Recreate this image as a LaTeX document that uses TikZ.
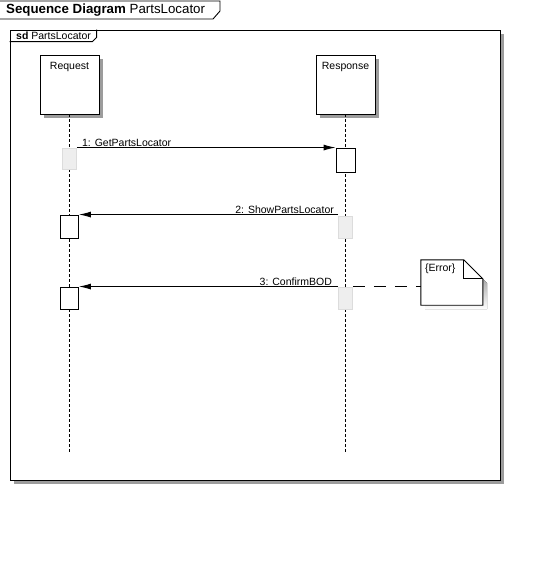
\documentclass[tikz,border=0pt]{standalone}
\usepackage{fontspec}
\setmainfont{Liberation Sans}
\usetikzlibrary{arrows.meta}
\definecolor{shade}{HTML}{9C9C9C}
\definecolor{actfill}{HTML}{EEEEEE}
\definecolor{actline}{HTML}{DCDCDC}
\tikzset{
 lifebox/.style={draw=black, fill=white, line width=0.9pt, minimum width=59pt, minimum height=59pt, inner sep=0pt},
 boxshadow/.style={fill=shade, draw=none, minimum width=59pt, minimum height=59pt, inner sep=0pt},
 act/.style={draw=black, fill=white, line width=0.9pt, minimum width=18pt, minimum height=23pt, inner sep=0pt},
 idle/.style={draw=actline, fill=actfill, line width=0.9pt, minimum width=14pt, minimum height=21pt, inner sep=0pt},
 lifeline/.style={dash pattern=on 3pt off 2pt, line width=0.9pt},
 msg/.style={line width=0.9pt, -{Latex[length=12pt,width=6pt]}},
 lbl/.style={font=\fontsize{10.5}{12}\selectfont, inner sep=1pt},
}
\begin{document}
\begin{tikzpicture}[x=1pt,y=-1pt]
\useasboundingbox (0,0) rectangle (541,574);
% header tab
\draw[line width=0.9pt] (0,1) -- (220,1) -- (220,11) -- (213,19) -- (0,19);
\node[anchor=west, inner sep=0pt, font=\fontsize{13.3}{15}\selectfont] (title) at (6,10) {\textbf{Sequence Diagram} PartsLocator};
% frame
\node[fill=shade, minimum width=490pt, minimum height=450pt, inner sep=0pt] (frameshadow) at (258.5,258.5) {};
\node[draw=black, fill=white, line width=0.9pt, minimum width=490pt, minimum height=450pt, inner sep=0pt] (frame) at (255,255) {};
\draw[line width=0.9pt] (frame.north west) ++(0,12) -- ++(83,0) -- ++(4,-4) -- ++(0,-8);
\node[anchor=west, lbl] (sd) at (15,36) {\textbf{sd} PartsLocator};
% lifeline heads
\node[boxshadow] (reqs) at (73.5,88.5) {};
\node[boxshadow] (resps) at (349.5,88.5) {};
\node[lifebox] (req) at (69.5,84.5) {};
\node[lbl, anchor=north] (reqt) at ([yshift=-7pt]req.north) {Request};
\node[lifebox] (resp) at (345.5,84.5) {};
\node[lbl, anchor=north] (respt) at ([yshift=-7pt]resp.north) {Response};
\coordinate (reqend) at (69.5,454);
\coordinate (respend) at (345.5,454);
\draw[lifeline] (req.south) -- (reqend);
\draw[lifeline] (resp.south) -- (respend);
% activations
\node[idle] (a1) at (69.5,158.5) {};
\node[act, minimum width=19pt, minimum height=24pt] (b1) at (345.5,160) {};
\node[act] (a2) at (69.5,226.5) {};
\node[idle, minimum height=22pt] (b2) at (345.5,227) {};
\node[act, minimum height=22pt] (a3) at (69.5,298) {};
\node[idle, minimum height=22pt] (b3) at (345.5,298) {};
% messages
\draw[msg] (a1.north east) -- (b1.north west);
\node[lbl, anchor=south west] (m1) at ([xshift=4pt]a1.north east) {1: GetPartsLocator};
\draw[msg] (b2.north west |- a2.north) -- (a2.north east);
\node[lbl, anchor=south east] (m2) at ([xshift=-3pt]b2.north west |- a2.north) {2: ShowPartsLocator};
\draw[msg] (b3.north west) -- (a3.north east);
\node[lbl, anchor=south east] (m3) at ([xshift=-5pt]b3.north west) {3: ConfirmBOD};
% note
\node[minimum width=62pt, minimum height=45pt, inner sep=0pt] (note) at (452,282.5) {};
\fill[shade] (425,264) -- (468,264) -- (487,283) -- (487,309) -- (425,309) -- cycle;
\filldraw[fill=white, draw=black, line width=0.9pt] (note.north west) -- ++(43,0) -- ++(19,19) |- (note.south west) -- cycle;
\draw[line width=0.9pt] ([xshift=43pt]note.north west) -- ++(0,19) -- ++(19,0);
\node[lbl, anchor=north west] (notet) at ([xshift=3pt,yshift=-3pt]note.north west) {\{Error\}};
\draw[line width=0.9pt, dash pattern=on 12pt off 9pt] (b3.north east) -- (note.west |- b3.north);
\end{tikzpicture}
\end{document}
